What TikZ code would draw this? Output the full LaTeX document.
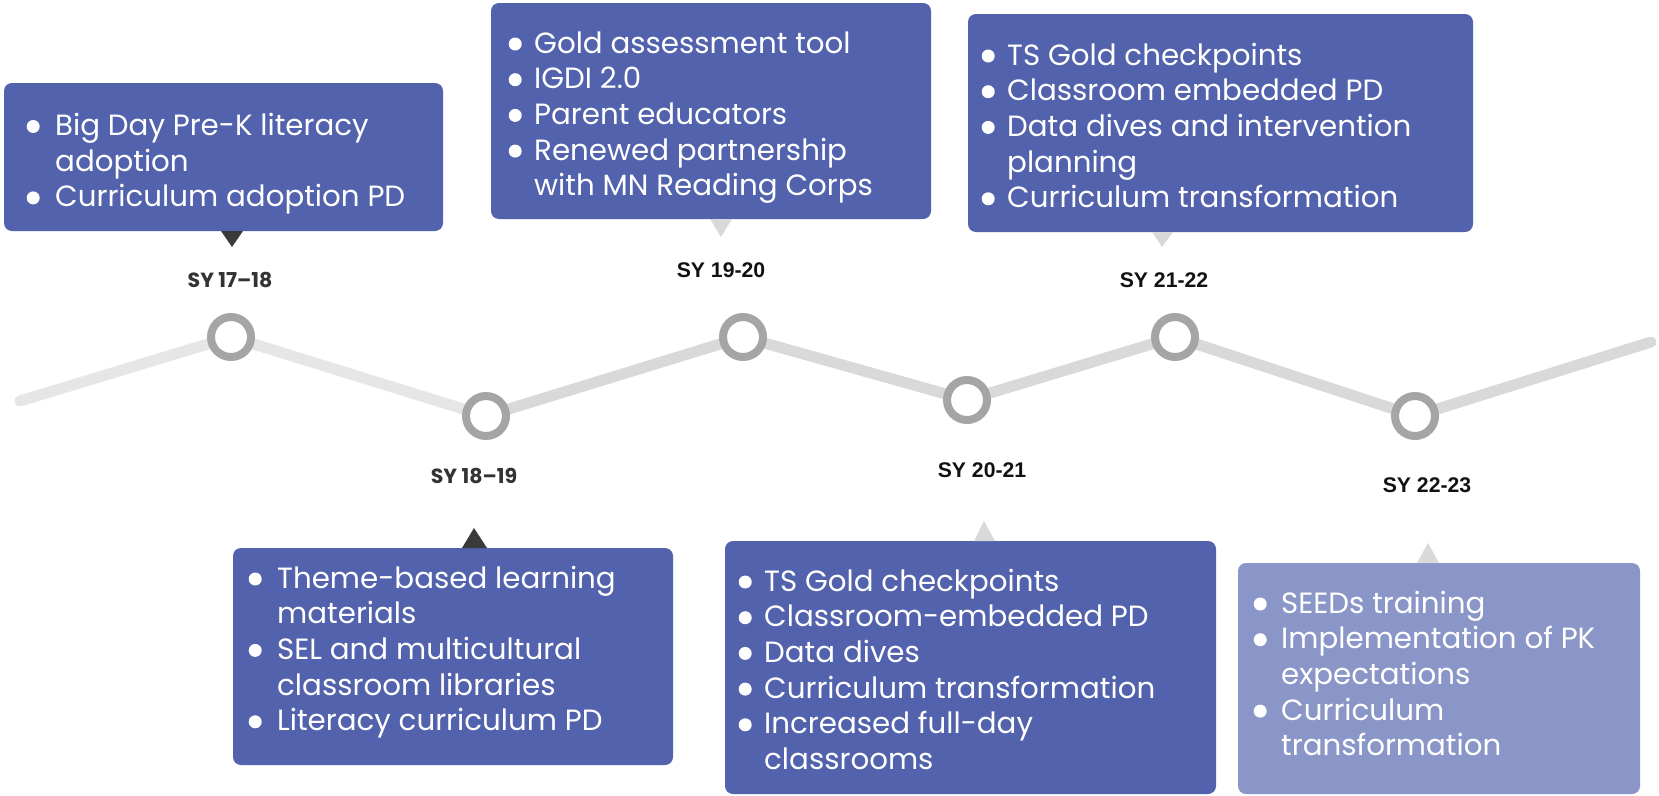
\documentclass[tikz,border=0pt]{standalone}
\usepackage{fontspec}
\setmainfont{Poppins}
\newfontfamily\labfont{Liberation Sans}
\usetikzlibrary{backgrounds}
\definecolor{boxblue}{HTML}{5262AC}
\definecolor{boxlight}{HTML}{8A96C8}
\definecolor{ringgray}{HTML}{A5A5A5}
\definecolor{linelight}{HTML}{E6E6E6}
\definecolor{linedark}{HTML}{D9D9D9}
\definecolor{ptrdark}{HTML}{3A3A3A}
\definecolor{ptrlight}{HTML}{D9D9D9}
\definecolor{labgray}{HTML}{333333}
\definecolor{labblack}{HTML}{111111}
\newlength\bgap
\newcommand\bul{\llap{\tikz[baseline=0pt,x=1pt,y=1pt]\fill[white] (0,9) circle (6.5);\hspace{\bgap}}}
\newcommand\blist[2]{\setlength\bgap{#1}\begin{tabular}[t]{@{}l@{}}#2\end{tabular}}
\tikzset{
  box/.style={fill=boxblue, rounded corners=8pt, inner sep=0pt, draw=none},
  btext/.style={text=white, inner sep=0pt, anchor=base west, font=\fontsize{29.3}{35.7}\selectfont},
  ring/.style={circle, draw=ringgray, line width=8pt, fill=white, minimum size=40pt, inner sep=0pt},
  labA/.style={font=\fontsize{20.5}{24}\selectfont\bfseries, text=labgray, anchor=base, inner sep=0pt},
  labB/.style={font=\labfont\fontsize{21.2}{24}\selectfont\bfseries, text=labblack, anchor=base, inner sep=0pt},
  seglight/.style={draw=linelight, line width=11pt, line cap=round, line join=round},
  segdark/.style={draw=linedark, line width=11pt, line cap=round, line join=round},
}
\begin{document}
\begin{tikzpicture}[x=1pt,y=-1pt]
\useasboundingbox (0,0) rectangle (1659,795);
% circles
\node[ring] (c1) at (231,337) {};
\node[ring] (c2) at (486,416) {};
\node[ring] (c3) at (743,337) {};
\node[ring] (c4) at (967,400) {};
\node[ring] (c5) at (1175,337) {};
\node[ring] (c6) at (1415,416) {};
\coordinate (s) at (20,401);
\coordinate (e) at (1651,342);
\begin{scope}[on background layer]
\fill[white] (0,0) rectangle (1659,795);
\draw[seglight] (s) -- (c1.center) -- (c2.center);
\draw[segdark] (c2.center) -- (c3.center) -- (c4.center) -- (c5.center) -- (c6.center) -- (e);
\end{scope}
% labels
\node[labA] (l1) at (230,287) {SY 17–18};
\node[labA] (l2) at (474,483) {SY 18–19};
\node[labB] (l3) at (721,277) {SY 19-20};
\node[labB] (l4) at (982,477) {SY 20-21};
\node[labB] (l5) at (1164,287) {SY 21-22};
\node[labB] (l6) at (1427,492) {SY 22-23};
% boxes
\node[box, minimum width=439pt, minimum height=148pt] (b1) at (223.5,157) {};
\node[box, minimum width=440pt, minimum height=216pt] (b2) at (711,111) {};
\node[box, minimum width=505pt, minimum height=218pt] (b3) at (1220.5,123) {};
\node[box, minimum width=440pt, minimum height=217pt] (b4) at (453,656.5) {};
\node[box, minimum width=491pt, minimum height=253pt] (b5) at (970.5,667.5) {};
\node[box, fill=boxlight, minimum width=402pt, minimum height=231pt] (b6) at (1439,678.5) {};
% pointers
\fill[ptrdark] (221,231) -- (243,231) -- (232,247) -- cycle;
\fill[ptrlight] (710,219) -- (732,219) -- (721,237) -- cycle;
\fill[ptrlight] (1152,232) -- (1173,232) -- (1162,247) -- cycle;
\fill[ptrdark] (462,548) -- (487,548) -- (474,528) -- cycle;
\fill[ptrlight] (974,541) -- (995,541) -- (984,521) -- cycle;
\fill[ptrlight] (1417,563) -- (1439,563) -- (1428,543) -- cycle;
% texts
\node[btext] (t1) at (55,135.5) {\blist{15.5pt}{\bul Big Day Pre-K literacy\\ adoption\\ \bul Curriculum adoption PD}};
\node[btext] (t2) at (534,53) {\blist{12.5pt}{\bul Gold assessment tool\\ \bul IGDI 2.0\\ \bul Parent educators\\ \bul Renewed partnership\\ with MN Reading Corps}};
\node[btext] (t3) at (1007,65) {\blist{12.5pt}{\bul TS Gold checkpoints\\ \bul Classroom embedded PD\\ \bul Data dives and intervention\\ planning\\ \bul Curriculum transformation}};
\node[btext] (t4) at (277,588) {\blist{15.5pt}{\bul Theme-based learning\\ materials\\ \bul SEL and multicultural\\ classroom libraries\\ \bul Literacy curriculum PD}};
\node[btext] (t5) at (764,591) {\blist{12.5pt}{\bul TS Gold checkpoints\\ \bul Classroom-embedded PD\\ \bul Data dives\\ \bul Curriculum transformation\\ \bul Increased full-day\\ classrooms}};
\node[btext] (t6) at (1281,613) {\blist{14.5pt}{\bul SEEDs training\\ \bul Implementation of PK\\ expectations\\ \bul Curriculum\\ transformation}};
\end{tikzpicture}
\end{document}
